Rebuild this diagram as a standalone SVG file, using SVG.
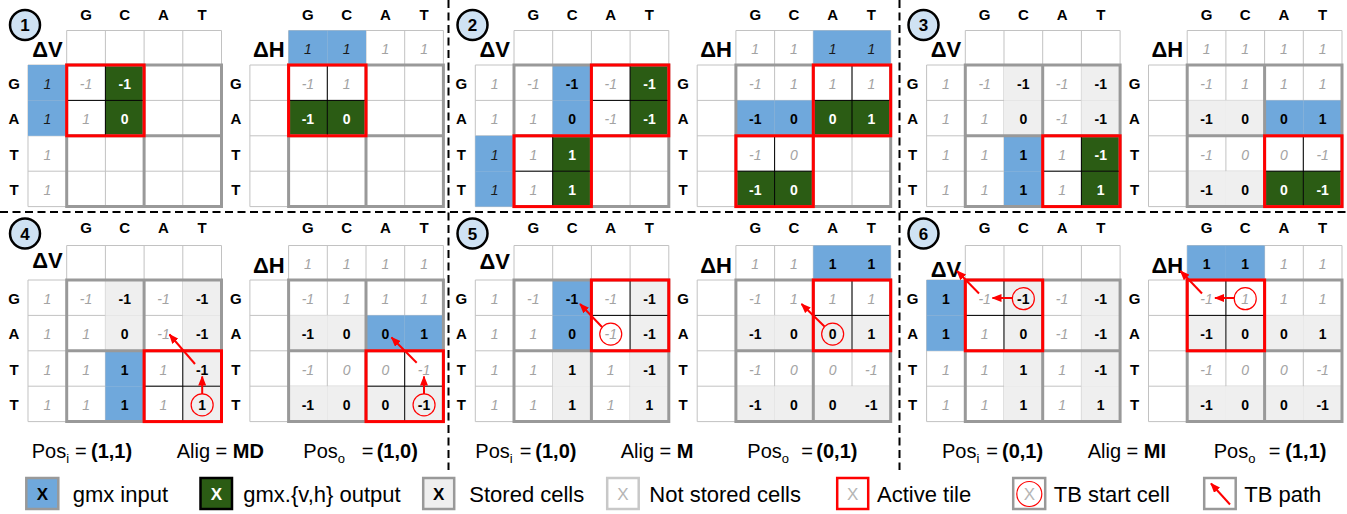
<svg xmlns="http://www.w3.org/2000/svg" width="1347" height="514" viewBox="0 0 1347 514">
<style>
text { font-family: "Liberation Sans", Arial, Helvetica, sans-serif; }
.v { font-size: 14px; text-anchor: middle; }
.g { fill: #a3a3a3; font-style: italic; }
.k { fill: #000; font-weight: bold; }
.w { fill: #fff; font-weight: bold; }
.i { fill: #1a1a1a; font-style: italic; }
.hd { font-size: 15px; font-weight: bold; text-anchor: middle; }
.lbl { font-size: 22px; font-weight: bold; text-anchor: end; }
.num { font-size: 17px; font-weight: bold; text-anchor: middle; }
.pc { fill: #cfe2f3; stroke: #000; stroke-width: 2.5; }
.fB { fill: #6fa8dc; }
.fG { fill: #2b5c14; }
.fL { fill: #efefef; }
.thin { fill: none; stroke: #c2c2c2; stroke-width: 1; }
.thick { fill: none; stroke: #999; stroke-width: 3; }
.st { fill: none; stroke: #f00; stroke-width: 1.2; }
.tb { stroke: #f00; stroke-width: 2; fill: none; }
.dash { stroke: #000; stroke-width: 2; stroke-dasharray: 8 4.5; fill: none; }
.cap { font-size: 20px; }
.leg { font-size: 22px; }
.lx { font-size: 17px; text-anchor: middle; }
.box { stroke: #999; stroke-width: 2.5; }
</style>
<defs>
  <rect id="c" width="38.7" height="35.4"/>
  <rect id="ch" width="38.7" height="34.5"/>
  <!-- thin cell lines: header row, left column, main 4x4 grid -->
  <path id="thin" class="thin" d="M0 -34.5H154.8V0H0Z M38.7 -34.5V0 M77.4 -34.5V0 M116.1 -34.5V0 M-38.7 0H0V141.6H-38.7Z M-38.7 35.4H0 M-38.7 70.8H0 M-38.7 106.2H0 M38.7 0V141.6 M116.1 0V141.6 M0 35.4H154.8 M0 106.2H154.8"/>
  <!-- 2x2 tile borders -->
  <path id="thick" class="thick" d="M0 0H154.8V141.6H0Z M77.4 0V141.6 M0 70.8H154.8"/>
  <!-- active tile -->
  <g id="act">
    <path d="M38.7 0V70.8M0 35.4H77.4" stroke="#000" stroke-width="1" fill="none"/>
    <rect width="77.4" height="70.8" fill="none" stroke="#f00" stroke-width="3"/>
  </g>
  <g id="colhdr" class="hd"><text x="19.35">G</text><text x="58.05">C</text><text x="96.75">A</text><text x="135.45">T</text></g>
  <g id="rowhdr" class="hd"><text x="-52.7" y="24">G</text><text x="-52.7" y="59.4">A</text><text x="-52.7" y="94.8">T</text><text x="-52.7" y="130.2">T</text></g>
  <marker id="ah" viewBox="0 0 10 8" refX="9" refY="4" markerWidth="10" markerHeight="8" markerUnits="userSpaceOnUse" orient="auto"><path d="M0 0L10 4L0 8z" fill="#f00"/></marker>
</defs>

<!-- panel separators -->
<g id="separators">
  <line class="dash" x1="448.5" y1="0" x2="448.5" y2="470"/>
  <line class="dash" x1="899.5" y1="0" x2="899.5" y2="470"/>
  <line class="dash" x1="0" y1="212" x2="1347" y2="212"/>
</g>

<!-- step 1 -->
<g id="panel1">
  <circle class="pc" cx="25" cy="25" r="15"/><text class="num" x="25" y="31">1</text>
  <g id="p1-dv" transform="translate(66.7 65)">
    <use href="#thin"/>
    <use href="#c" class="fB" x="-38.7" y="0"/><use href="#c" class="fB" x="-38.7" y="35.4"/>
    <use href="#c" class="fG" x="38.7" y="0"/><use href="#c" class="fG" x="38.7" y="35.4"/>
    <use href="#thick"/>
    <use href="#act" x="0" y="0"/>
    <use href="#colhdr" y="-45"/><use href="#rowhdr"/>
    <text class="lbl" x="-4" y="-8">ΔV</text>
    <text class="v i" x="-19.35" y="24">1</text><text class="v i" x="-19.35" y="59.4">1</text>
    <text class="v g" x="-19.35" y="94.8">1</text><text class="v g" x="-19.35" y="130.2">1</text>
    <text class="v g" x="19.35" y="24">-1</text><text class="v w" x="58.05" y="24">-1</text>
    <text class="v g" x="19.35" y="59.4">1</text><text class="v w" x="58.05" y="59.4">0</text>
  </g>
  <g id="p1-dh" transform="translate(288.6 65)">
    <use href="#thin"/>
    <use href="#ch" class="fB" x="0" y="-34.5"/><use href="#ch" class="fB" x="38.7" y="-34.5"/>
    <use href="#c" class="fG" x="0" y="35.4"/><use href="#c" class="fG" x="38.7" y="35.4"/>
    <use href="#thick"/>
    <use href="#act" x="0" y="0"/>
    <use href="#colhdr" y="-45"/><use href="#rowhdr"/>
    <text class="lbl" x="-4" y="-8">ΔH</text>
    <text class="v i" x="19.35" y="-11">1</text><text class="v i" x="58.05" y="-11">1</text>
    <text class="v g" x="96.75" y="-11">1</text><text class="v g" x="135.45" y="-11">1</text>
    <text class="v g" x="19.35" y="24">-1</text><text class="v g" x="58.05" y="24">1</text>
    <text class="v w" x="19.35" y="59.4">-1</text><text class="v w" x="58.05" y="59.4">0</text>
  </g>
</g>

<!-- step 2 -->
<g id="panel2">
  <circle class="pc" cx="472.5" cy="25" r="15"/><text class="num" x="472.5" y="31">2</text>
  <g id="p2-dv" transform="translate(514 65)">
    <use href="#thin"/>
    <use href="#c" class="fB" x="-38.7" y="70.8"/><use href="#c" class="fB" x="-38.7" y="106.2"/>
    <use href="#c" class="fB" x="38.7" y="0"/><use href="#c" class="fB" x="38.7" y="35.4"/>
    <use href="#c" class="fG" x="116.1" y="0"/><use href="#c" class="fG" x="116.1" y="35.4"/>
    <use href="#c" class="fG" x="38.7" y="70.8"/><use href="#c" class="fG" x="38.7" y="106.2"/>
    <use href="#thick"/>
    <use href="#act" x="77.4" y="0"/><use href="#act" x="0" y="70.8"/>
    <use href="#colhdr" y="-45"/><use href="#rowhdr"/>
    <text class="lbl" x="-4" y="-8">ΔV</text>
    <text class="v g" x="-19.35" y="24">1</text><text class="v g" x="-19.35" y="59.4">1</text>
    <text class="v i" x="-19.35" y="94.8">1</text><text class="v i" x="-19.35" y="130.2">1</text>
    <text class="v g" x="19.35" y="24">-1</text><text class="v k" x="58.05" y="24">-1</text><text class="v g" x="96.75" y="24">-1</text><text class="v w" x="135.45" y="24">-1</text>
    <text class="v g" x="19.35" y="59.4">1</text><text class="v k" x="58.05" y="59.4">0</text><text class="v g" x="96.75" y="59.4">-1</text><text class="v w" x="135.45" y="59.4">-1</text>
    <text class="v g" x="19.35" y="94.8">1</text><text class="v w" x="58.05" y="94.8">1</text>
    <text class="v g" x="19.35" y="130.2">1</text><text class="v w" x="58.05" y="130.2">1</text>
  </g>
  <g id="p2-dh" transform="translate(735.9 65)">
    <use href="#thin"/>
    <use href="#ch" class="fB" x="77.4" y="-34.5"/><use href="#ch" class="fB" x="116.1" y="-34.5"/>
    <use href="#c" class="fB" x="0" y="35.4"/><use href="#c" class="fB" x="38.7" y="35.4"/>
    <use href="#c" class="fG" x="77.4" y="35.4"/><use href="#c" class="fG" x="116.1" y="35.4"/>
    <use href="#c" class="fG" x="0" y="106.2"/><use href="#c" class="fG" x="38.7" y="106.2"/>
    <use href="#thick"/>
    <use href="#act" x="77.4" y="0"/><use href="#act" x="0" y="70.8"/>
    <use href="#colhdr" y="-45"/><use href="#rowhdr"/>
    <text class="lbl" x="-4" y="-8">ΔH</text>
    <text class="v g" x="19.35" y="-11">1</text><text class="v g" x="58.05" y="-11">1</text>
    <text class="v i" x="96.75" y="-11">1</text><text class="v i" x="135.45" y="-11">1</text>
    <text class="v g" x="19.35" y="24">-1</text><text class="v g" x="58.05" y="24">1</text><text class="v g" x="96.75" y="24">1</text><text class="v g" x="135.45" y="24">1</text>
    <text class="v k" x="19.35" y="59.4">-1</text><text class="v k" x="58.05" y="59.4">0</text><text class="v w" x="96.75" y="59.4">0</text><text class="v w" x="135.45" y="59.4">1</text>
    <text class="v g" x="19.35" y="94.8">-1</text><text class="v g" x="58.05" y="94.8">0</text>
    <text class="v w" x="19.35" y="130.2">-1</text><text class="v w" x="58.05" y="130.2">0</text>
  </g>
</g>

<!-- step 3 -->
<g id="panel3">
  <circle class="pc" cx="923.5" cy="25" r="15"/><text class="num" x="923.5" y="31">3</text>
  <g id="p3-dv" transform="translate(965.3 65)">
    <use href="#thin"/>
    <use href="#c" class="fL" x="38.7" y="0"/><use href="#c" class="fL" x="38.7" y="35.4"/>
    <use href="#c" class="fL" x="116.1" y="0"/><use href="#c" class="fL" x="116.1" y="35.4"/>
    <use href="#c" class="fB" x="38.7" y="70.8"/><use href="#c" class="fB" x="38.7" y="106.2"/>
    <use href="#c" class="fG" x="116.1" y="70.8"/><use href="#c" class="fG" x="116.1" y="106.2"/>
    <use href="#thick"/>
    <use href="#act" x="77.4" y="70.8"/>
    <use href="#colhdr" y="-45"/><use href="#rowhdr"/>
    <text class="lbl" x="-4" y="-8">ΔV</text>
    <text class="v g" x="-19.35" y="24">1</text><text class="v g" x="-19.35" y="59.4">1</text>
    <text class="v g" x="-19.35" y="94.8">1</text><text class="v g" x="-19.35" y="130.2">1</text>
    <text class="v g" x="19.35" y="24">-1</text><text class="v k" x="58.05" y="24">-1</text><text class="v g" x="96.75" y="24">-1</text><text class="v k" x="135.45" y="24">-1</text>
    <text class="v g" x="19.35" y="59.4">1</text><text class="v k" x="58.05" y="59.4">0</text><text class="v g" x="96.75" y="59.4">-1</text><text class="v k" x="135.45" y="59.4">-1</text>
    <text class="v g" x="19.35" y="94.8">1</text><text class="v k" x="58.05" y="94.8">1</text><text class="v g" x="96.75" y="94.8">1</text><text class="v w" x="135.45" y="94.8">-1</text>
    <text class="v g" x="19.35" y="130.2">1</text><text class="v k" x="58.05" y="130.2">1</text><text class="v g" x="96.75" y="130.2">1</text><text class="v w" x="135.45" y="130.2">1</text>
  </g>
  <g id="p3-dh" transform="translate(1187.2 65)">
    <use href="#thin"/>
    <use href="#c" class="fL" x="0" y="35.4"/><use href="#c" class="fL" x="38.7" y="35.4"/>
    <use href="#c" class="fB" x="77.4" y="35.4"/><use href="#c" class="fB" x="116.1" y="35.4"/>
    <use href="#c" class="fL" x="0" y="106.2"/><use href="#c" class="fL" x="38.7" y="106.2"/>
    <use href="#c" class="fG" x="77.4" y="106.2"/><use href="#c" class="fG" x="116.1" y="106.2"/>
    <use href="#thick"/>
    <use href="#act" x="77.4" y="70.8"/>
    <use href="#colhdr" y="-45"/><use href="#rowhdr"/>
    <text class="lbl" x="-4" y="-8">ΔH</text>
    <text class="v g" x="19.35" y="-11">1</text><text class="v g" x="58.05" y="-11">1</text>
    <text class="v g" x="96.75" y="-11">1</text><text class="v g" x="135.45" y="-11">1</text>
    <text class="v g" x="19.35" y="24">-1</text><text class="v g" x="58.05" y="24">1</text><text class="v g" x="96.75" y="24">1</text><text class="v g" x="135.45" y="24">1</text>
    <text class="v k" x="19.35" y="59.4">-1</text><text class="v k" x="58.05" y="59.4">0</text><text class="v k" x="96.75" y="59.4">0</text><text class="v k" x="135.45" y="59.4">1</text>
    <text class="v g" x="19.35" y="94.8">-1</text><text class="v g" x="58.05" y="94.8">0</text><text class="v g" x="96.75" y="94.8">0</text><text class="v g" x="135.45" y="94.8">-1</text>
    <text class="v k" x="19.35" y="130.2">-1</text><text class="v k" x="58.05" y="130.2">0</text><text class="v w" x="96.75" y="130.2">0</text><text class="v w" x="135.45" y="130.2">-1</text>
  </g>
</g>

<!-- step 4 -->
<g id="panel4">
  <circle class="pc" cx="25" cy="233.5" r="15"/><text class="num" x="25" y="239.5">4</text>
  <g id="p4-dv" transform="translate(66.7 280)">
    <use href="#thin"/>
    <use href="#c" class="fL" x="38.7" y="0"/><use href="#c" class="fL" x="38.7" y="35.4"/>
    <use href="#c" class="fB" x="38.7" y="70.8"/><use href="#c" class="fB" x="38.7" y="106.2"/>
    <use href="#c" class="fL" x="116.1" y="0"/><use href="#c" class="fL" x="116.1" y="35.4"/>
    <use href="#c" class="fL" x="116.1" y="70.8"/><use href="#c" class="fL" x="116.1" y="106.2"/>
    <use href="#thick"/>
    <use href="#act" x="77.4" y="70.8"/>
    <use href="#colhdr" y="-46.7"/><use href="#rowhdr"/>
    <text class="lbl" x="-4" y="-12">ΔV</text>
    <text class="v g" x="-19.35" y="24">1</text><text class="v g" x="-19.35" y="59.4">1</text>
    <text class="v g" x="-19.35" y="94.8">1</text><text class="v g" x="-19.35" y="130.2">1</text>
    <text class="v g" x="19.35" y="24">-1</text><text class="v k" x="58.05" y="24">-1</text><text class="v g" x="96.75" y="24">-1</text><text class="v k" x="135.45" y="24">-1</text>
    <text class="v g" x="19.35" y="59.4">1</text><text class="v k" x="58.05" y="59.4">0</text><text class="v g" x="96.75" y="59.4">-1</text><text class="v k" x="135.45" y="59.4">-1</text>
    <text class="v g" x="19.35" y="94.8">1</text><text class="v k" x="58.05" y="94.8">1</text><text class="v g" x="96.75" y="94.8">1</text><text class="v k" x="135.45" y="94.8">-1</text>
    <text class="v g" x="19.35" y="130.2">1</text><text class="v k" x="58.05" y="130.2">1</text><text class="v g" x="96.75" y="130.2">1</text><text class="v k" x="135.45" y="130.2">1</text>
    <circle class="st" cx="135.45" cy="124.9" r="11"/>
  </g>
  <g id="p4-dh" transform="translate(288.6 280)">
    <use href="#thin"/>
    <use href="#c" class="fL" x="0" y="35.4"/><use href="#c" class="fL" x="38.7" y="35.4"/>
    <use href="#c" class="fB" x="77.4" y="35.4"/><use href="#c" class="fB" x="116.1" y="35.4"/>
    <use href="#c" class="fL" x="0" y="106.2"/><use href="#c" class="fL" x="38.7" y="106.2"/>
    <use href="#c" class="fL" x="77.4" y="106.2"/><use href="#c" class="fL" x="116.1" y="106.2"/>
    <use href="#thick"/>
    <use href="#act" x="77.4" y="70.8"/>
    <use href="#colhdr" y="-46.7"/><use href="#rowhdr"/>
    <text class="lbl" x="-4" y="-7">ΔH</text>
    <text class="v g" x="19.35" y="-11">1</text><text class="v g" x="58.05" y="-11">1</text>
    <text class="v g" x="96.75" y="-11">1</text><text class="v g" x="135.45" y="-11">1</text>
    <text class="v g" x="19.35" y="24">-1</text><text class="v g" x="58.05" y="24">1</text><text class="v g" x="96.75" y="24">1</text><text class="v g" x="135.45" y="24">1</text>
    <text class="v k" x="19.35" y="59.4">-1</text><text class="v k" x="58.05" y="59.4">0</text><text class="v k" x="96.75" y="59.4">0</text><text class="v k" x="135.45" y="59.4">1</text>
    <text class="v g" x="19.35" y="94.8">-1</text><text class="v g" x="58.05" y="94.8">0</text><text class="v g" x="96.75" y="94.8">0</text><text class="v g" x="135.45" y="94.8">-1</text>
    <text class="v k" x="19.35" y="130.2">-1</text><text class="v k" x="58.05" y="130.2">0</text><text class="v k" x="96.75" y="130.2">0</text><text class="v k" x="135.45" y="130.2">-1</text>
    <circle class="st" cx="135.45" cy="124.9" r="11"/>
  </g>
  <g class="cap">
    <text x="31.7" y="458.3">Pos<tspan font-size="13" dy="5">i</tspan></text>
    <text x="75" y="458.3">=</text>
    <text x="91" y="458.3" font-weight="bold">(1,1)</text>
    <text x="176.7" y="458.3">Alig = <tspan font-weight="bold">MD</tspan></text>
    <text x="303.3" y="458.3">Pos<tspan font-size="13" dy="5">o</tspan></text>
    <text x="361.7" y="458.3">=</text>
    <text x="376.7" y="458.3" font-weight="bold">(1,0)</text>
  </g>
</g>

<!-- step 5 -->
<g id="panel5">
  <circle class="pc" cx="472.5" cy="233.5" r="15"/><text class="num" x="472.5" y="239.5">5</text>
  <g id="p5-dv" transform="translate(514 280)">
    <use href="#thin"/>
    <use href="#c" class="fB" x="38.7" y="0"/><use href="#c" class="fB" x="38.7" y="35.4"/>
    <use href="#c" class="fL" x="38.7" y="70.8"/><use href="#c" class="fL" x="38.7" y="106.2"/>
    <use href="#c" class="fL" x="116.1" y="0"/><use href="#c" class="fL" x="116.1" y="35.4"/>
    <use href="#c" class="fL" x="116.1" y="70.8"/><use href="#c" class="fL" x="116.1" y="106.2"/>
    <use href="#thick"/>
    <use href="#act" x="77.4" y="0"/>
    <use href="#colhdr" y="-46.7"/><use href="#rowhdr"/>
    <text class="lbl" x="-4" y="-10.7">ΔV</text>
    <text class="v g" x="-19.35" y="24">1</text><text class="v g" x="-19.35" y="59.4">1</text>
    <text class="v g" x="-19.35" y="94.8">1</text><text class="v g" x="-19.35" y="130.2">1</text>
    <text class="v g" x="19.35" y="24">-1</text><text class="v k" x="58.05" y="24">-1</text><text class="v g" x="96.75" y="24">-1</text><text class="v k" x="135.45" y="24">-1</text>
    <text class="v g" x="19.35" y="59.4">1</text><text class="v k" x="58.05" y="59.4">0</text><text class="v g" x="96.75" y="59.4">-1</text><text class="v k" x="135.45" y="59.4">-1</text>
    <text class="v g" x="19.35" y="94.8">1</text><text class="v k" x="58.05" y="94.8">1</text><text class="v g" x="96.75" y="94.8">1</text><text class="v k" x="135.45" y="94.8">-1</text>
    <text class="v g" x="19.35" y="130.2">1</text><text class="v k" x="58.05" y="130.2">1</text><text class="v g" x="96.75" y="130.2">1</text><text class="v k" x="135.45" y="130.2">1</text>
    <circle class="st" cx="96.75" cy="54.1" r="11"/>
  </g>
  <g id="p5-dh" transform="translate(735.9 280)">
    <use href="#thin"/>
    <use href="#ch" class="fB" x="77.4" y="-34.5"/><use href="#ch" class="fB" x="116.1" y="-34.5"/>
    <use href="#c" class="fL" x="0" y="35.4"/><use href="#c" class="fL" x="38.7" y="35.4"/>
    <use href="#c" class="fL" x="77.4" y="35.4"/><use href="#c" class="fL" x="116.1" y="35.4"/>
    <use href="#c" class="fL" x="0" y="106.2"/><use href="#c" class="fL" x="38.7" y="106.2"/>
    <use href="#c" class="fL" x="77.4" y="106.2"/><use href="#c" class="fL" x="116.1" y="106.2"/>
    <use href="#thick"/>
    <use href="#act" x="77.4" y="0"/>
    <use href="#colhdr" y="-46.7"/><use href="#rowhdr"/>
    <text class="lbl" x="-4" y="-7.3">ΔH</text>
    <text class="v g" x="19.35" y="-11">1</text><text class="v g" x="58.05" y="-11">1</text>
    <text class="v k" x="96.75" y="-11">1</text><text class="v k" x="135.45" y="-11">1</text>
    <text class="v g" x="19.35" y="24">-1</text><text class="v g" x="58.05" y="24">1</text><text class="v g" x="96.75" y="24">1</text><text class="v g" x="135.45" y="24">1</text>
    <text class="v k" x="19.35" y="59.4">-1</text><text class="v k" x="58.05" y="59.4">0</text><text class="v k" x="96.75" y="59.4">0</text><text class="v k" x="135.45" y="59.4">1</text>
    <text class="v g" x="19.35" y="94.8">-1</text><text class="v g" x="58.05" y="94.8">0</text><text class="v g" x="96.75" y="94.8">0</text><text class="v g" x="135.45" y="94.8">-1</text>
    <text class="v k" x="19.35" y="130.2">-1</text><text class="v k" x="58.05" y="130.2">0</text><text class="v k" x="96.75" y="130.2">0</text><text class="v k" x="135.45" y="130.2">-1</text>
    <circle class="st" cx="96.75" cy="54.1" r="11"/>
  </g>
  <g class="cap">
    <text x="475.3" y="458.3">Pos<tspan font-size="13" dy="5">i</tspan></text>
    <text x="519.7" y="458.3">=</text>
    <text x="535.3" y="458.3" font-weight="bold">(1,0)</text>
    <text x="620.7" y="458.3">Alig = <tspan font-weight="bold">M</tspan></text>
    <text x="747.3" y="458.3">Pos<tspan font-size="13" dy="5">o</tspan></text>
    <text x="801.3" y="458.3">=</text>
    <text x="816.3" y="458.3" font-weight="bold">(0,1)</text>
  </g>
</g>

<!-- step 6 -->
<g id="panel6">
  <circle class="pc" cx="923.5" cy="233.5" r="15"/><text class="num" x="923.5" y="239.5">6</text>
  <g id="p6-dv" transform="translate(965.3 280)">
    <use href="#thin"/>
    <use href="#c" class="fB" x="-38.7" y="0"/><use href="#c" class="fB" x="-38.7" y="35.4"/>
    <use href="#c" class="fL" x="38.7" y="0"/><use href="#c" class="fL" x="38.7" y="35.4"/>
    <use href="#c" class="fL" x="38.7" y="70.8"/><use href="#c" class="fL" x="38.7" y="106.2"/>
    <use href="#c" class="fL" x="116.1" y="0"/><use href="#c" class="fL" x="116.1" y="35.4"/>
    <use href="#c" class="fL" x="116.1" y="70.8"/><use href="#c" class="fL" x="116.1" y="106.2"/>
    <use href="#thick"/>
    <use href="#act" x="0" y="0"/>
    <use href="#colhdr" y="-46.7"/><use href="#rowhdr"/>
    <text class="lbl" x="-4" y="-3.3">ΔV</text>
    <text class="v k" x="-19.35" y="24">1</text><text class="v k" x="-19.35" y="59.4">1</text>
    <text class="v g" x="-19.35" y="94.8">1</text><text class="v g" x="-19.35" y="130.2">1</text>
    <text class="v g" x="19.35" y="24">-1</text><text class="v k" x="58.05" y="24">-1</text><text class="v g" x="96.75" y="24">-1</text><text class="v k" x="135.45" y="24">-1</text>
    <text class="v g" x="19.35" y="59.4">1</text><text class="v k" x="58.05" y="59.4">0</text><text class="v g" x="96.75" y="59.4">-1</text><text class="v k" x="135.45" y="59.4">-1</text>
    <text class="v g" x="19.35" y="94.8">1</text><text class="v k" x="58.05" y="94.8">1</text><text class="v g" x="96.75" y="94.8">1</text><text class="v k" x="135.45" y="94.8">-1</text>
    <text class="v g" x="19.35" y="130.2">1</text><text class="v k" x="58.05" y="130.2">1</text><text class="v g" x="96.75" y="130.2">1</text><text class="v k" x="135.45" y="130.2">1</text>
    <circle class="st" cx="58.05" cy="18.7" r="11"/>
  </g>
  <g id="p6-dh" transform="translate(1187.2 280)">
    <use href="#thin"/>
    <use href="#ch" class="fB" x="0" y="-34.5"/><use href="#ch" class="fB" x="38.7" y="-34.5"/>
    <use href="#c" class="fL" x="0" y="35.4"/><use href="#c" class="fL" x="38.7" y="35.4"/>
    <use href="#c" class="fL" x="77.4" y="35.4"/><use href="#c" class="fL" x="116.1" y="35.4"/>
    <use href="#c" class="fL" x="0" y="106.2"/><use href="#c" class="fL" x="38.7" y="106.2"/>
    <use href="#c" class="fL" x="77.4" y="106.2"/><use href="#c" class="fL" x="116.1" y="106.2"/>
    <use href="#thick"/>
    <use href="#act" x="0" y="0"/>
    <use href="#colhdr" y="-46.7"/><use href="#rowhdr"/>
    <text class="lbl" x="-4" y="-6.7">ΔH</text>
    <text class="v k" x="19.35" y="-11">1</text><text class="v k" x="58.05" y="-11">1</text>
    <text class="v g" x="96.75" y="-11">1</text><text class="v g" x="135.45" y="-11">1</text>
    <text class="v g" x="19.35" y="24">-1</text><text class="v g" x="58.05" y="24">1</text><text class="v g" x="96.75" y="24">1</text><text class="v g" x="135.45" y="24">1</text>
    <text class="v k" x="19.35" y="59.4">-1</text><text class="v k" x="58.05" y="59.4">0</text><text class="v k" x="96.75" y="59.4">0</text><text class="v k" x="135.45" y="59.4">1</text>
    <text class="v g" x="19.35" y="94.8">-1</text><text class="v g" x="58.05" y="94.8">0</text><text class="v g" x="96.75" y="94.8">0</text><text class="v g" x="135.45" y="94.8">-1</text>
    <text class="v k" x="19.35" y="130.2">-1</text><text class="v k" x="58.05" y="130.2">0</text><text class="v k" x="96.75" y="130.2">0</text><text class="v k" x="135.45" y="130.2">-1</text>
    <circle class="st" cx="58.05" cy="18.7" r="11"/>
  </g>
  <g class="cap">
    <text x="942" y="458.3">Pos<tspan font-size="13" dy="5">i</tspan></text>
    <text x="986.3" y="458.3">=</text>
    <text x="1002" y="458.3" font-weight="bold">(0,1)</text>
    <text x="1087.7" y="458.3">Alig = <tspan font-weight="bold">MI</tspan></text>
    <text x="1213.7" y="458.3">Pos<tspan font-size="13" dy="5">o</tspan></text>
    <text x="1268.7" y="458.3">=</text>
    <text x="1285.3" y="458.3" font-weight="bold">(1,1)</text>
  </g>
</g>

<!-- traceback paths -->
<g id="tb-paths">
  <line class="tb" x1="202.2" y1="394" x2="202.2" y2="376.5" marker-end="url(#ah)"/>
  <line class="tb" x1="195" y1="364" x2="169.5" y2="334.5" marker-end="url(#ah)"/>
  <line class="tb" x1="424" y1="394" x2="424" y2="376.5" marker-end="url(#ah)"/>
  <line class="tb" x1="416.7" y1="362.7" x2="391.5" y2="337.5" marker-end="url(#ah)"/>
  <line class="tb" x1="602" y1="327" x2="580" y2="304" marker-end="url(#ah)"/>
  <line class="tb" x1="824.5" y1="326.5" x2="801.5" y2="304" marker-end="url(#ah)"/>
  <line class="tb" x1="1012" y1="298" x2="992.5" y2="298" marker-end="url(#ah)"/>
  <line class="tb" x1="979" y1="293.5" x2="957" y2="271" marker-end="url(#ah)"/>
  <line class="tb" x1="1234" y1="298" x2="1215" y2="298" marker-end="url(#ah)"/>
  <line class="tb" x1="1202" y1="293.5" x2="1180.5" y2="271" marker-end="url(#ah)"/>
</g>

<!-- legend -->
<g id="legend">
  <rect class="box fB" x="26.3" y="478" width="32" height="31"/>
  <text class="lx k" x="42.3" y="499.5">X</text>
  <text class="leg" x="72.7" y="502">gmx input</text>

  <rect class="fG" x="200.5" y="478" width="31.5" height="31" stroke="#000" stroke-width="2.5"/>
  <text class="lx w" x="216.3" y="499.5">X</text>
  <text class="leg" x="243.3" y="502">gmx.{v,h} output</text>

  <rect class="box fL" x="423.2" y="478" width="31" height="31"/>
  <text class="lx k" x="438.7" y="499.5">X</text>
  <text class="leg" x="469.3" y="502">Stored cells</text>

  <rect x="607.2" y="478" width="31.5" height="31" fill="#fff" stroke="#c8c8c8" stroke-width="2.5"/>
  <text class="lx" x="623" y="499.5" fill="#b5b5b5">X</text>
  <text class="leg" x="649.3" y="502">Not stored cells</text>

  <rect x="837.2" y="478" width="31" height="31" fill="#fff" stroke="#f00" stroke-width="2.5"/>
  <text class="lx" x="852.7" y="499.5" fill="#b5b5b5">X</text>
  <text class="leg" x="877" y="502">Active tile</text>

  <rect class="box" x="1013.2" y="478" width="32" height="31" fill="#fff"/>
  <circle class="st" cx="1029.3" cy="494" r="12.5"/>
  <text class="lx" x="1029.3" y="500" fill="#b5b5b5">X</text>
  <text class="leg" x="1053.7" y="502">TB start cell</text>

  <rect class="box" x="1204.2" y="478" width="31.5" height="31" fill="#fff"/>
  <line class="tb" x1="1230" y1="504.5" x2="1211" y2="483.5" marker-end="url(#ah)"/>
  <text class="leg" x="1244.3" y="502">TB path</text>
</g>
</svg>
